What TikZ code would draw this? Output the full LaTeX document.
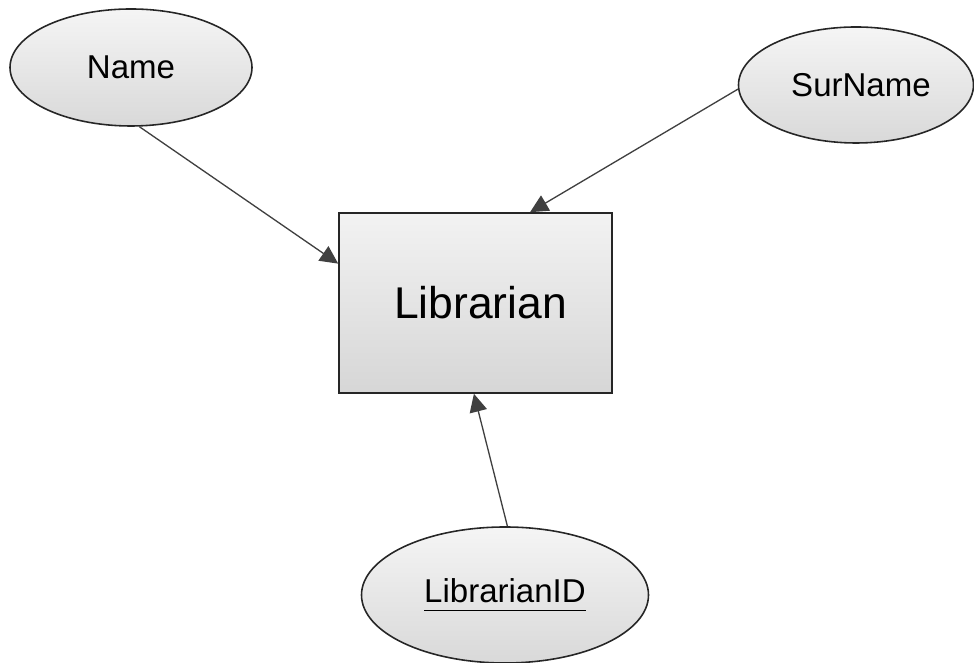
\documentclass[tikz,border=0pt]{standalone}
\usepackage{fontspec}
\setmainfont{Liberation Sans}
\usepackage{tikz}
\usetikzlibrary{arrows.meta, shapes.geometric}

% key attribute: underlined a little below the baseline
\newcommand{\keyattr}[1]{\underline{#1\rule[-3.5pt]{0pt}{1pt}}}

\begin{document}
\begin{tikzpicture}[
    entity/.style={rectangle, draw=black!85, line width=0.9pt,
      top color=gray!10, bottom color=gray!32,
      minimum width=5.46cm, minimum height=3.6cm, inner sep=0pt,
      font=\fontsize{25.3}{30}\selectfont},
    attr/.style={ellipse, draw=black!85, line width=0.9pt,
      top color=gray!8, bottom color=gray!30,
      inner sep=0pt, font=\fontsize{18.8}{22}\selectfont},
    link/.style={draw=black!75, line width=0.75pt,
      -{Triangle[length=3.6mm, width=3.5mm]}}
  ]
  \useasboundingbox (0,0) rectangle (19.48,13.26);

  % entity and its attributes
  \node[entity] (lib) at (9.51,7.2) {\hspace{0.2cm}Librarian};
  \node[attr, minimum width=4.84cm, minimum height=2.34cm] (name) at (2.62,11.91) {Name};
  \node[attr, minimum width=4.7cm, minimum height=2.32cm] (sur) at (17.12,11.56) {\hspace{0.2cm}SurName};
  \node[attr, minimum width=5.74cm, minimum height=2.72cm] (id) at (10.1,1.36) {\keyattr{LibrarianID}};

  % attribute links
  \draw[link] (name.-82) -- (lib.164);
  \draw[link] (sur.182) -- (lib.59);
  \draw[link] (id.88) -- (lib.-91);
\end{tikzpicture}
\end{document}
